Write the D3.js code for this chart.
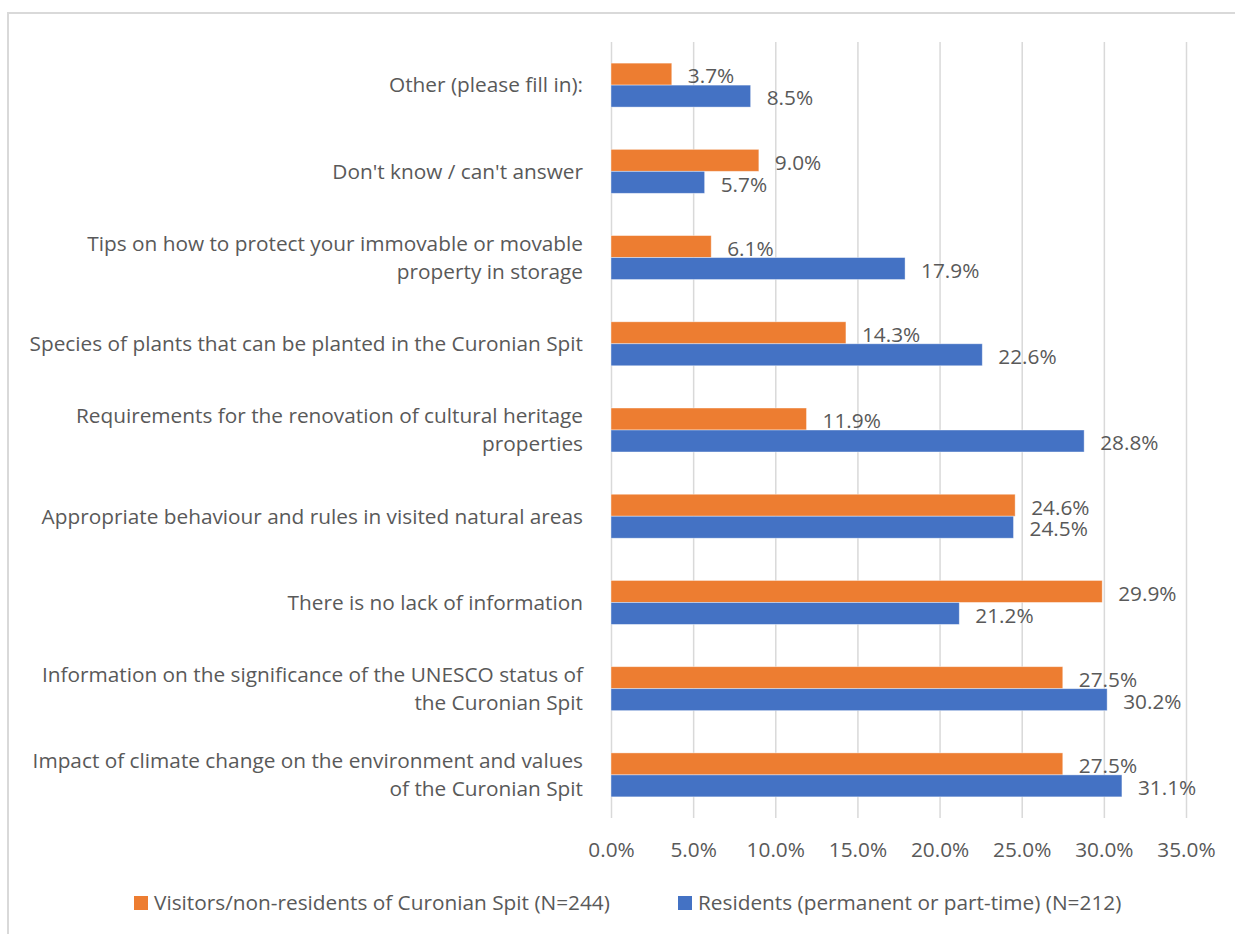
<!DOCTYPE html>
<html>
<head>
<meta charset="utf-8">
<script src="https://cdn.jsdelivr.net/npm/d3@7"></script>
<style>
  html, body { margin: 0; padding: 0; background: #fff; }
  svg { display: block; }
  text { font-family: "Open Sans", sans-serif; fill: #595959; }
</style>
</head>
<body>
<svg id="chart" width="1235" height="934"></svg>
<script>
const categories = [
  ["Other (please fill in):"],
  ["Don't know / can't answer"],
  ["Tips on how to protect your immovable or movable", "property in storage"],
  ["Species of plants that can be planted in the Curonian Spit"],
  ["Requirements for the renovation of cultural heritage", "properties"],
  ["Appropriate behaviour and rules in visited natural areas"],
  ["There is no lack of information"],
  ["Information on the significance of the UNESCO status of", "the Curonian Spit"],
  ["Impact of climate change on the environment and values", "of the Curonian Spit"]
];
const visitors = [3.7, 9.0, 6.1, 14.3, 11.9, 24.6, 29.9, 27.5, 27.5];
const residents = [8.5, 5.7, 17.9, 22.6, 28.8, 24.5, 21.2, 30.2, 31.1];
const seriesNames = ["Visitors/non-residents of Curonian Spit (N=244)", "Residents (permanent or part-time) (N=212)"];
const seriesColors = ["#ED7D31", "#4472C4"];
const xTicks = [0, 5, 10, 15, 20, 25, 30, 35];

(function () {
const svg = d3.select("#chart");
const pL = 611, pR = 1186, pT = 42, pB = 818;
const fontSize = 20.8;

// outer border
svg.append("rect").attr("x", 8).attr("y", 13).attr("width", 1240).attr("height", 940)
  .attr("fill", "none").attr("stroke", "#d9d9d9").attr("stroke-width", 2);

const x = d3.scaleLinear().domain([0, 35]).range([pL, pR]);
const keys = categories.map((c, i) => i);
const y = d3.scaleBand().domain(keys).range([pT, pB]).paddingInner(0.49).paddingOuter(0.245);
const ySub = d3.scaleBand().domain([0, 1]).range([0, y.bandwidth()]);

// gridlines
const xAxis = d3.axisBottom(x).tickValues(xTicks).tickSize(-(pB - pT)).tickFormat(d => d.toFixed(1) + "%");
const gx = svg.append("g").attr("transform", `translate(0,${pB})`).call(xAxis);
gx.select(".domain").remove();
gx.selectAll(".tick line").attr("stroke", "#d9d9d9").attr("stroke-width", 1.5);
gx.selectAll(".tick text").attr("y", 32).attr("dy", "0.35em").style("font-size", fontSize + "px")
  .style("font-family", "'Open Sans', sans-serif").attr("fill", "#595959");

// bars
const data = [visitors, residents];
data.forEach((vals, s) => {
  const g = svg.append("g");
  g.selectAll("rect").data(vals).join("rect")
    .attr("x", x(0))
    .attr("y", (d, i) => y(i) + ySub(s))
    .attr("width", d => x(d) - x(0))
    .attr("height", ySub.bandwidth())
    .attr("fill", seriesColors[s])
    .attr("stroke", "#ffffff").attr("stroke-opacity", 0.5).attr("stroke-width", 0.8);
  g.selectAll("text").data(vals).join("text")
    .attr("x", d => x(d) + 16)
    .attr("y", (d, i) => y(i) + ySub(s) + ySub.bandwidth() / 2 + 2)
    .attr("dy", "0.35em")
    .style("font-size", fontSize + "px")
    .text(d => d.toFixed(1) + "%");
});

// category labels
const lineH = 28;
categories.forEach((lines, i) => {
  const cy = y(i) + y.bandwidth() / 2;
  const t = svg.append("text").attr("text-anchor", "end").style("font-size", fontSize + "px");
  const n = lines.length;
  lines.forEach((ln, j) => {
    t.append("tspan").attr("x", 583)
      .attr("y", cy + (j - (n - 1) / 2) * lineH)
      .attr("dy", "0.35em").text(ln);
  });
});

// legend
const legendItems = [{x: 134}, {x: 678}];
legendItems.forEach((it, s) => {
  svg.append("rect").attr("x", it.x).attr("y", 896).attr("width", 14).attr("height", 14).attr("fill", seriesColors[s]);
  svg.append("text").attr("x", it.x + 20).attr("y", 903).attr("dy", "0.35em")
    .style("font-size", fontSize + "px").text(seriesNames[s]);
});
})();
</script>
</body>
</html>
